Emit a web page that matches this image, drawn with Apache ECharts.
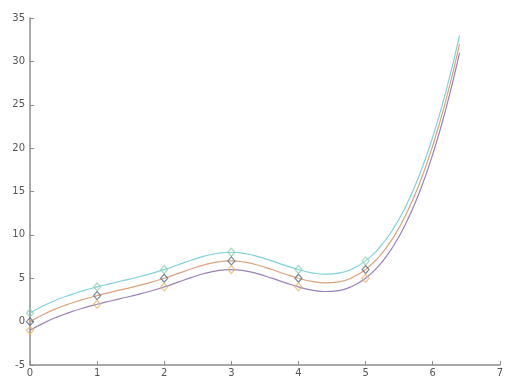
<!DOCTYPE html>
<html>
<head>
<meta charset="utf-8">
<script src="https://cdn.jsdelivr.net/npm/echarts@6/dist/echarts.min.js"></script>
<style>
  html, body { margin: 0; padding: 0; background: #ffffff; }
  #chart { width: 506px; height: 378px; }
</style>
</head>
<body>
<div id="chart"></div>
<script>
// Sample positions along the fitted curves
const curveX = [0, 0.2, 0.4, 0.6, 0.8, 1, 1.2, 1.4, 1.6, 1.8, 2, 2.2, 2.4, 2.6, 2.8, 3,
  3.2, 3.4, 3.6, 3.8, 4, 4.2, 4.4, 4.6, 4.8, 5, 5.2, 5.4, 5.6, 5.8, 6, 6.2, 6.4];

// Fitted curves
const upperCurve = [1, 1.83, 2.52, 3.09, 3.58, 4, 4.38, 4.75, 5.12, 5.53, 6, 6.53, 7.07, 7.55, 7.88, 8,
  7.85, 7.5, 7.01, 6.49, 6, 5.63, 5.47, 5.58, 6.07, 7, 8.46, 10.54, 13.31, 16.86, 21.27, 26.62, 32.99];
const middleCurve = [0, 0.83, 1.52, 2.09, 2.58, 3, 3.38, 3.75, 4.12, 4.53, 5, 5.53, 6.07, 6.55, 6.88, 7,
  6.85, 6.5, 6.01, 5.49, 5, 4.63, 4.47, 4.58, 5.07, 6, 7.46, 9.54, 12.31, 15.86, 20.27, 25.62, 31.99];
const lowerCurve = [-1, -0.17, 0.52, 1.09, 1.58, 2, 2.38, 2.75, 3.12, 3.53, 4, 4.53, 5.07, 5.55, 5.88, 6,
  5.85, 5.5, 5.01, 4.49, 4, 3.63, 3.47, 3.58, 4.07, 5, 6.46, 8.54, 11.31, 14.86, 19.27, 24.62, 30.99];

// Measured points
const pointX = [0, 1, 2, 3, 4, 5];
const upperPoints = [1, 4, 6, 8, 6, 7];
const middlePoints = [0, 3, 5, 7, 5, 6];
const lowerPoints = [-1, 2, 4, 6, 4, 5];

// Axis ticks
const xTicks = [0, 1, 2, 3, 4, 5, 6, 7];
const yTicks = [-5, 0, 5, 10, 15, 20, 25, 30, 35];

const pair = (xs, ys) => xs.map((x, i) => [x, ys[i]]);

const lineSeries = (data, color) => ({
  type: 'line',
  data: data,
  smooth: true,
  showSymbol: false,
  symbol: 'none',
  lineStyle: { color: color, width: 1.2 },
  z: 2
});

const pointSeries = (data, color) => ({
  type: 'scatter',
  data: data,
  symbol: 'diamond',
  symbolSize: [7, 8],
  itemStyle: { color: 'rgba(255,255,255,0)', borderColor: color, borderWidth: 1.2 },
  z: 3
});

const axisColor = '#8c8c8c';
const labelStyle = { color: '#555', fontSize: 10, fontFamily: 'DejaVu Sans' };

const chart = echarts.init(document.getElementById('chart'), null, { renderer: 'canvas' });
chart.setOption({
  animation: false,
  backgroundColor: '#ffffff',
  grid: { left: 30, right: 3, top: 18, bottom: 9, containLabel: false },
  xAxis: {
    type: 'value',
    min: xTicks[0],
    max: xTicks[xTicks.length - 1],
    interval: 1,
    axisLine: { show: true, onZero: false, lineStyle: { color: axisColor, width: 1.5 } },
    axisTick: { show: true, inside: true, length: 4, lineStyle: { color: axisColor } },
    axisLabel: Object.assign({ margin: 3 }, labelStyle),
    splitLine: { show: false }
  },
  yAxis: {
    type: 'value',
    min: yTicks[0],
    max: yTicks[yTicks.length - 1],
    interval: 5,
    axisLine: { show: true, onZero: false, lineStyle: { color: axisColor, width: 1.5 } },
    axisTick: { show: true, inside: true, length: 4, lineStyle: { color: axisColor } },
    axisLabel: Object.assign({ margin: 5 }, labelStyle),
    splitLine: { show: false }
  },
  series: [
    lineSeries(pair(curveX, upperCurve), '#7fd2da'),
    lineSeries(pair(curveX, middleCurve), '#dba27c'),
    lineSeries(pair(curveX, lowerCurve), '#9c80b8'),
    pointSeries(pair(pointX, upperPoints), '#8fcfae'),
    pointSeries(pair(pointX, middlePoints), '#5d6b82'),
    pointSeries(pair(pointX, lowerPoints), '#e6b66e')
  ]
});
</script>
</body>
</html>
